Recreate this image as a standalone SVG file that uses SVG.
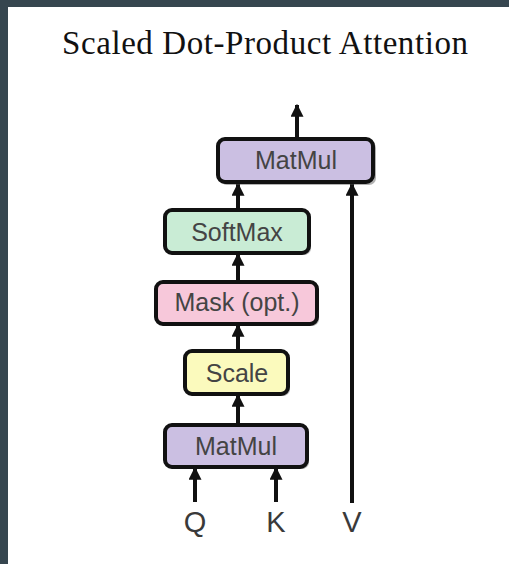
<svg xmlns="http://www.w3.org/2000/svg" width="509" height="564" viewBox="0 0 509 564">
  <defs>
    <style>
      .title { font-family: "Liberation Serif", "Times New Roman", serif; font-size: 33px; fill: #111; }
      .box { stroke: #111; stroke-width: 4; }
      .shadow { fill: #555; opacity: 0.45; }
      .label { font-family: "Liberation Sans", Arial, sans-serif; font-size: 25px; fill: #444; text-anchor: middle; }
      .io { font-family: "Liberation Sans", Arial, sans-serif; font-size: 29px; fill: #3a3a3a; text-anchor: middle; }
      .link { stroke: #111; stroke-width: 4; fill: none; marker-end: url(#head); }
      .matmul { fill: #cbbfe2; }
      .softmax { fill: #c9ecd5; }
      .mask { fill: #f7c8da; }
      .scale { fill: #fbfabd; }
    </style>
    <marker id="head" viewBox="0 0 10 10" refX="9" refY="5" markerUnits="userSpaceOnUse" markerWidth="13" markerHeight="13" orient="auto">
      <path d="M0,0 L10,5 L0,10 z" fill="#111"/>
    </marker>
  </defs>

  <!-- page frame -->
  <rect x="0" y="0" width="509" height="564" fill="#36464f"/>
  <rect x="8" y="7" width="501" height="557" fill="#ffffff"/>

  <text class="title" x="62" y="54" textLength="406" lengthAdjust="spacing">Scaled Dot-Product Attention</text>

  <!-- connectors -->
  <g id="connectors">
    <line class="link" x1="297" y1="137" x2="297" y2="105"/>
    <line class="link" x1="238" y1="210" x2="238" y2="184"/>
    <line class="link" x1="352" y1="503" x2="352" y2="184"/>
    <line class="link" x1="238" y1="282" x2="238" y2="254"/>
    <line class="link" x1="238" y1="351" x2="238" y2="325"/>
    <line class="link" x1="238" y1="425" x2="238" y2="395"/>
    <line class="link" x1="195" y1="502" x2="195" y2="468"/>
    <line class="link" x1="276" y1="502" x2="276" y2="468"/>
  </g>

  <g id="matmul-top">
    <rect class="shadow" x="220" y="141" width="156" height="44" rx="7"/>
    <rect class="box matmul" x="218" y="139" width="155" height="43" rx="7"/>
    <text class="label" x="296" y="169">MatMul</text>
  </g>

  <g id="softmax">
    <rect class="shadow" x="167" y="212" width="144" height="43" rx="7"/>
    <rect class="box softmax" x="165" y="210" width="144" height="43" rx="7"/>
    <text class="label" x="237" y="241">SoftMax</text>
  </g>

  <g id="mask">
    <rect class="shadow" x="158" y="284" width="161" height="42" rx="7"/>
    <rect class="box mask" x="156" y="282" width="161" height="42" rx="7"/>
    <text class="label" x="237" y="311">Mask (opt.)</text>
  </g>

  <g id="scale">
    <rect class="shadow" x="187" y="353" width="103" height="43" rx="7"/>
    <rect class="box scale" x="185" y="351" width="103" height="43" rx="7"/>
    <text class="label" x="237" y="382">Scale</text>
  </g>

  <g id="matmul-bottom">
    <rect class="shadow" x="167" y="427" width="142" height="42" rx="7"/>
    <rect class="box matmul" x="165" y="425" width="142" height="42" rx="7"/>
    <text class="label" x="236" y="455">MatMul</text>
  </g>

  <g id="inputs">
    <text class="io" x="195" y="532">Q</text>
    <text class="io" x="276" y="532">K</text>
    <text class="io" x="352" y="532">V</text>
  </g>
</svg>
